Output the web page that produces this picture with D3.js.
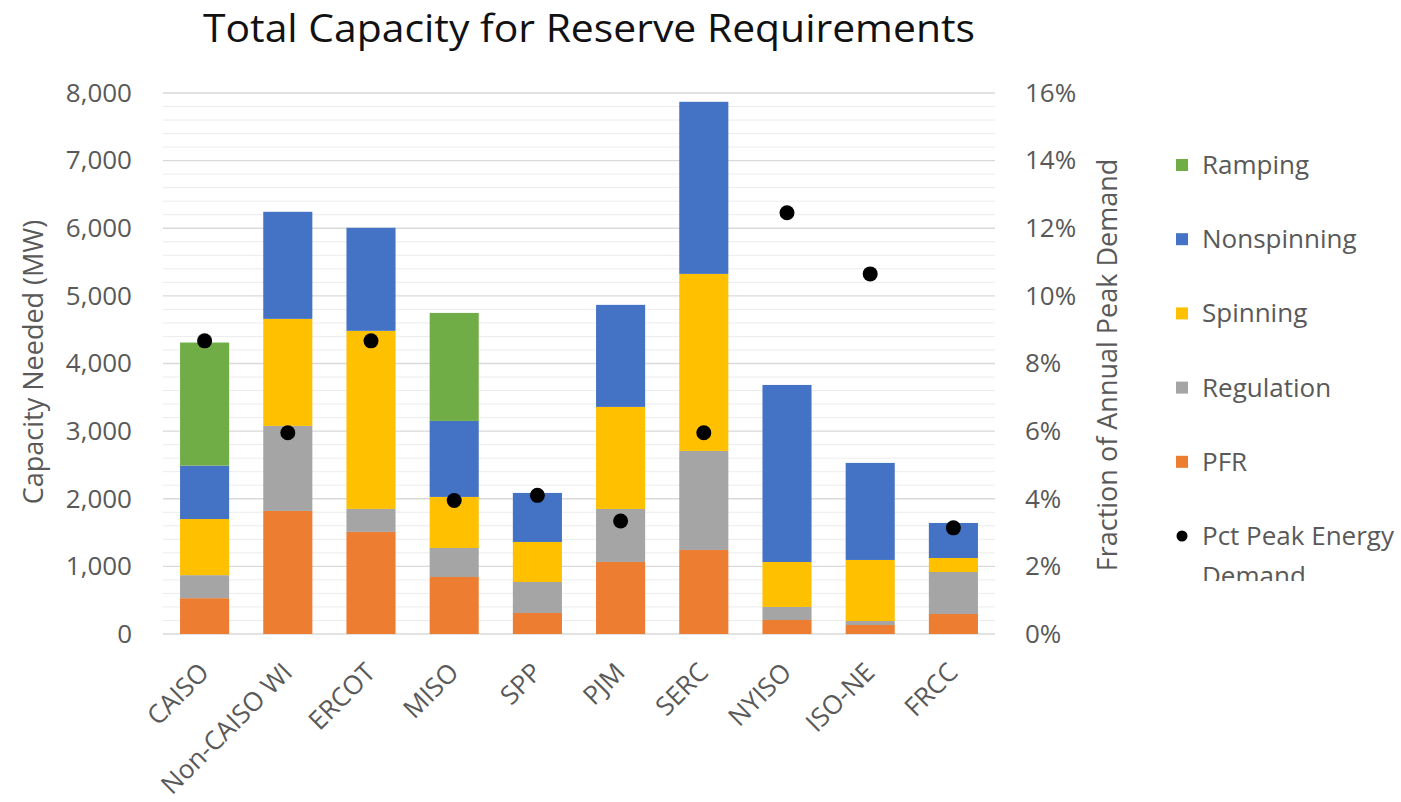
<!DOCTYPE html>
<html><head><meta charset="utf-8">
<script src="https://cdn.jsdelivr.net/npm/d3@7"></script>
<style>body{margin:0;background:#fff}text{font-family:"Open Sans",Lato,sans-serif}</style>
</head><body><svg id="c" width="1401" height="802"></svg>
<script>
const categories = ["CAISO","Non-CAISO WI","ERCOT","MISO","SPP","PJM","SERC","NYISO","ISO-NE","FRCC"];
const pfr         = [530, 1820, 1510, 843, 311, 1065, 1243, 207, 133, 296];
const regulation  = [340, 1257, 340, 429, 458, 784, 1464, 193, 59, 621];
const spinning    = [830, 1583, 2633, 755, 592, 1509, 2618, 665, 903, 207];
const nonspinning = [790, 1583, 1524, 1124, 725, 1509, 2545, 2618, 1435, 518];
const ramping     = [1820, 0, 0, 1597, 0, 0, 0, 0, 0, 0];
const pctPeak     = [8.67, 5.95, 8.67, 3.95, 4.1, 3.34, 5.95, 12.46, 10.65, 3.14];
const yTicks = [0,1000,2000,3000,4000,5000,6000,7000,8000];
const y2Ticks = [0,2,4,6,8,10,12,14,16];

const seriesNames = ["PFR","Regulation","Spinning","Nonspinning","Ramping"];
const seriesVals = [pfr, regulation, spinning, nonspinning, ramping];
const colors = {PFR:"#ED7D31",Regulation:"#A5A5A5",Spinning:"#FFC000",Nonspinning:"#4472C4",Ramping:"#70AD47"};

const svg = d3.select("#c");
const L=163, R=995, T=93, B=634;
const FS = 26;
const x = d3.scaleBand().domain(categories).range([L,R]).paddingInner(0.41).paddingOuter(0.205);
const y = d3.scaleLinear().domain([0,8000]).range([B,T]);
const y2 = d3.scaleLinear().domain([0,16]).range([B,T]);

// minor gridlines
svg.append("g").selectAll("line").data(d3.range(200,8000,200).filter(v=>v%1000!==0)).join("line")
  .attr("x1",L).attr("x2",R).attr("y1",d=>y(d)).attr("y2",d=>y(d)).attr("stroke","#ececec").attr("stroke-width",1);
// major gridlines
svg.append("g").selectAll("line").data(yTicks).join("line")
  .attr("x1",L).attr("x2",R).attr("y1",d=>y(d)).attr("y2",d=>y(d)).attr("stroke","#d9d9d9").attr("stroke-width",1.3);

// stacked bars
const rows = categories.map((c,i)=>{const o={cat:c}; seriesNames.forEach((s,k)=>o[s]=seriesVals[k][i]); return o;});
const stack = d3.stack().keys(seriesNames)(rows);
svg.append("g").selectAll("g").data(stack).join("g").attr("fill",d=>colors[d.key])
  .selectAll("rect").data(d=>d).join("rect")
  .attr("x",d=>x(d.data.cat)).attr("width",x.bandwidth())
  .attr("y",d=>y(d[1])).attr("height",d=>Math.max(0,y(d[0])-y(d[1])));

// dots
svg.append("g").selectAll("circle").data(categories).join("circle")
  .attr("cx",d=>x(d)+x.bandwidth()/2).attr("cy",(d,i)=>y2(pctPeak[i])).attr("r",7.5).attr("fill","#000");

// left axis
const axL = svg.append("g").attr("transform",`translate(${L},0)`)
  .call(d3.axisLeft(y).tickValues(yTicks).tickFormat(d3.format(",")).tickSize(0).tickPadding(31));
axL.select(".domain").remove();
axL.selectAll("text").attr("font-size",FS).attr("fill","#595959").style("font-family","Open Sans");
// right axis
const axR = svg.append("g").attr("transform",`translate(${R},0)`)
  .call(d3.axisRight(y2).tickValues(y2Ticks).tickFormat(d=>d+"%").tickSize(0).tickPadding(30));
axR.select(".domain").remove();
axR.selectAll("text").attr("font-size",FS).attr("fill","#595959").style("font-family","Open Sans");
// x axis
const axX = svg.append("g").attr("transform",`translate(0,${B})`)
  .call(d3.axisBottom(x).tickSize(0).tickPadding(0));
axX.select(".domain").remove();
axX.selectAll("text").attr("font-size",FS).attr("fill","#595959").style("font-family","Open Sans")
  .attr("text-anchor","end").attr("dy",0).attr("transform","translate(6,40) rotate(-45)");

// titles
svg.append("text").attr("x",589).attr("y",42).attr("text-anchor","middle").attr("font-size",38).attr("fill","#111")
  .attr("textLength",772).attr("lengthAdjust","spacingAndGlyphs")
  .text("Total Capacity for Reserve Requirements");
svg.append("text").attr("transform",`translate(43,${362}) rotate(-90)`).attr("text-anchor","middle").attr("font-size",27).attr("fill","#595959")
  .text("Capacity Needed (MW)");
svg.append("text").attr("transform",`translate(1117,${365}) rotate(-90)`).attr("text-anchor","middle").attr("font-size",27).attr("fill","#595959")
  .text("Fraction of Annual Peak Demand");

// legend
const legendItems = ["Ramping","Nonspinning","Spinning","Regulation","PFR"];
const lg = svg.append("g");
const ly = d3.scalePoint().domain([...legendItems,"Pct"]).range([165,536]);
lg.selectAll("rect").data(legendItems).join("rect")
  .attr("x",1176).attr("y",d=>ly(d)-6).attr("width",12).attr("height",12).attr("fill",d=>colors[d]);
lg.selectAll("text.l").data(legendItems).join("text").attr("class","l")
  .attr("x",1202).attr("y",d=>ly(d)+9).attr("font-size",FS).attr("fill","#595959").text(d=>d);
svg.append("defs").append("clipPath").attr("id","lgclip").append("rect").attr("x",1160).attr("y",500).attr("width",241).attr("height",81);
const pl = lg.append("g").attr("clip-path","url(#lgclip)");
pl.append("circle").attr("cx",1182).attr("cy",ly("Pct")).attr("r",5.5).attr("fill","#000");
pl.append("text").attr("x",1202).attr("y",ly("Pct")+9).attr("font-size",FS).attr("fill","#595959").text("Pct Peak Energy");
pl.append("text").attr("x",1202).attr("y",ly("Pct")+49).attr("font-size",FS).attr("fill","#595959").text("Demand");
</script></body></html>
